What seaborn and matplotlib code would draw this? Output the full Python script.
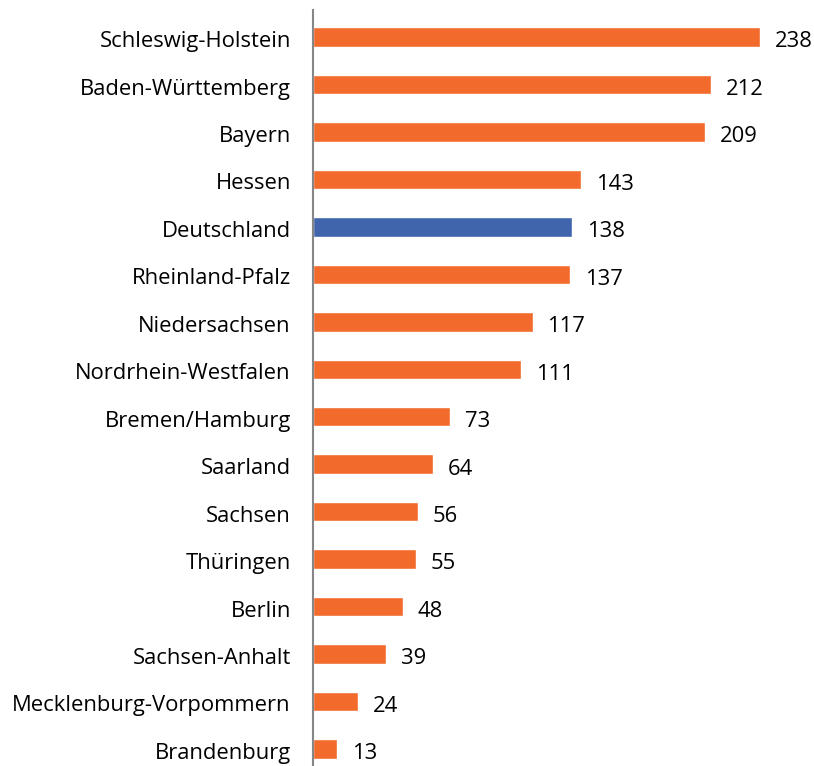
import matplotlib
matplotlib.use('Agg')
import matplotlib.pyplot as plt
import matplotlib.transforms as mtransforms
import seaborn as sns
import pandas as pd

# values per Bundesland
states = ['Schleswig-Holstein', 'Baden-Württemberg', 'Bayern', 'Hessen', 'Deutschland',
          'Rheinland-Pfalz', 'Niedersachsen', 'Nordrhein-Westfalen', 'Bremen/Hamburg',
          'Saarland', 'Sachsen', 'Thüringen', 'Berlin', 'Sachsen-Anhalt',
          'Mecklenburg-Vorpommern', 'Brandenburg']
values = [238, 212, 209, 143, 138, 137, 117, 111, 73, 64, 56, 55, 48, 39, 24, 13]

orange = '#F26B2D'
blue = '#4065AD'

sns.set_style('white')
plt.rcParams['font.family'] = ['Open Sans', 'DejaVu Sans']

df = pd.DataFrame({'state': states, 'value': values})
palette = {s: (blue if s == 'Deutschland' else orange) for s in states}

fig = plt.figure(figsize=(8.14, 7.66), dpi=100)
ax = fig.add_axes([313 / 814, 0.0, 0.99 - 313 / 814, 1 - 10 / 766])

sns.barplot(data=df, y='state', x='value', hue='state', palette=palette,
            order=states, width=0.41, legend=False, saturation=1, ax=ax)

for i, v in enumerate(values):
    ax.annotate(str(v), (v, i), xytext=(10.5, -3.5), textcoords='offset points',
                ha='left', va='center', fontsize=15.8, color='#000000')

ax.set_xlim(0, (806 - 313) / 1.878)
ax.set_ylim(15.36, -0.57)
ax.set_xlabel('')
ax.set_ylabel('')
ax.set_xticks([])
ax.tick_params(axis='y', length=0, pad=16, labelsize=15.8, labelcolor='#000000')
# nudge category labels slightly down like the original
shift = mtransforms.ScaledTranslation(0, -2 / 100, fig.dpi_scale_trans)
for lab in ax.get_yticklabels():
    lab.set_transform(lab.get_transform() + shift)
for s in ['top', 'right', 'bottom']:
    ax.spines[s].set_visible(False)
ax.spines['left'].set_color('#868686')
ax.spines['left'].set_linewidth(1.5)

fig.savefig('out.png', dpi=100)
